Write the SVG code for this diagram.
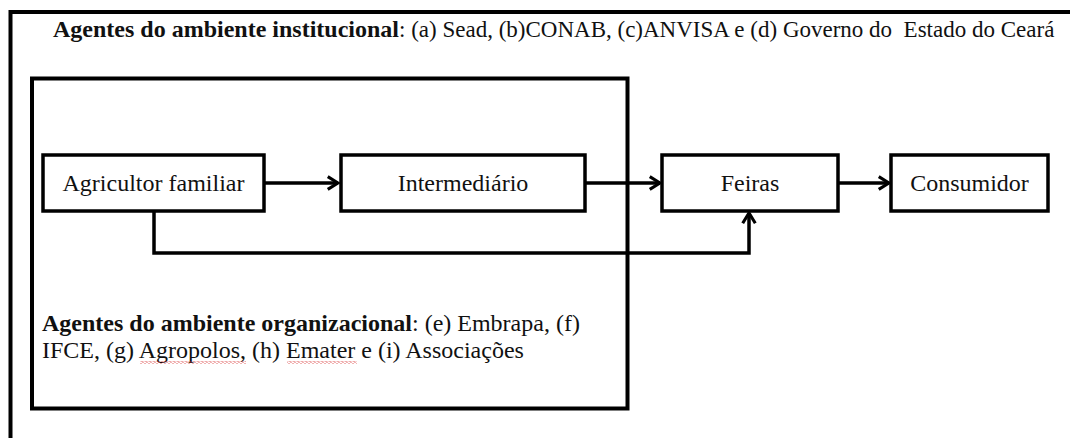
<svg xmlns="http://www.w3.org/2000/svg" width="1070" height="438" viewBox="0 0 1070 438">
  <style>
    .frame { fill: none; stroke: #000; stroke-width: 4; }
    .box { fill: #fff; stroke: #000; stroke-width: 3.5; }
    .edge { fill: none; stroke: #000; stroke-width: 3.5; }
    .lbl { font-family: "Liberation Serif", "Times New Roman", serif; font-size: 24px; fill: #111; white-space: pre; }
    .b { font-weight: bold; }
    .sm { font-size: 23px; }
  </style>
  <defs>
    <marker id="arrow" viewBox="0 0 10 10" refX="8.5" refY="5" markerWidth="4.5" markerHeight="4.5" orient="auto" markerUnits="strokeWidth">
      <path d="M2,1 L8.5,5 L2,9" fill="none" stroke="#000" stroke-width="2"/>
    </marker>
    <!-- red wavy spell-check underline -->
    <pattern id="wave" width="4" height="3" patternUnits="userSpaceOnUse">
      <path d="M0,1.5 L1,0.5 L3,2.5 L4,1.5" fill="none" stroke="#d42a2a" stroke-width="0.8"/>
    </pattern>
  </defs>
  <rect width="1070" height="438" fill="#fff"/>

  <!-- institutional environment frame -->
  <g id="institutional">
    <path class="frame" d="M10.5,1070 V12 H1072"/>
    <text class="lbl" x="53" y="37" xml:space="preserve"><tspan class="b">Agentes do ambiente institucional</tspan><tspan class="sm">: (a) Sead, (b)CONAB, (c)ANVISA e (d) Governo do  Estado do Ceará</tspan></text>
  </g>

  <!-- organizational environment frame -->
  <g id="organizational">
    <rect class="frame" x="32" y="78.5" width="595.5" height="330"/>
    <text class="lbl" x="42" y="331"><tspan class="b">Agentes do ambiente organizacional</tspan>: (e) Embrapa, (f)</text>
    <text class="lbl" x="42" y="358">IFCE, (g) Agropolos, (h) Emater e (i) Associações</text>
    <rect x="140" y="361" width="106" height="3" fill="url(#wave)"/>
    <rect x="287" y="361" width="70" height="3" fill="url(#wave)"/>
  </g>

  <g id="connectors">
    <path class="edge" d="M265,183 H338" marker-end="url(#arrow)"/>
    <path class="edge" d="M586,183 H660" marker-end="url(#arrow)"/>
    <path class="edge" d="M839,183 H889" marker-end="url(#arrow)"/>
    <path class="edge" d="M154,212 V253 H749 V213" marker-end="url(#arrow)"/>
  </g>

  <g id="agricultor">
    <rect class="box" x="43" y="155" width="221" height="56"/>
    <text class="lbl" x="153.5" y="191" text-anchor="middle">Agricultor familiar</text>
  </g>
  <g id="intermediario">
    <rect class="box" x="341" y="155" width="244" height="56"/>
    <text class="lbl" x="463" y="191" text-anchor="middle">Intermediário</text>
  </g>
  <g id="feiras">
    <rect class="box" x="662" y="155" width="176" height="56"/>
    <text class="lbl" x="750" y="191" text-anchor="middle">Feiras</text>
  </g>
  <g id="consumidor">
    <rect class="box" x="891" y="155" width="157" height="56"/>
    <text class="lbl" x="969.5" y="191" text-anchor="middle">Consumidor</text>
  </g>
</svg>
